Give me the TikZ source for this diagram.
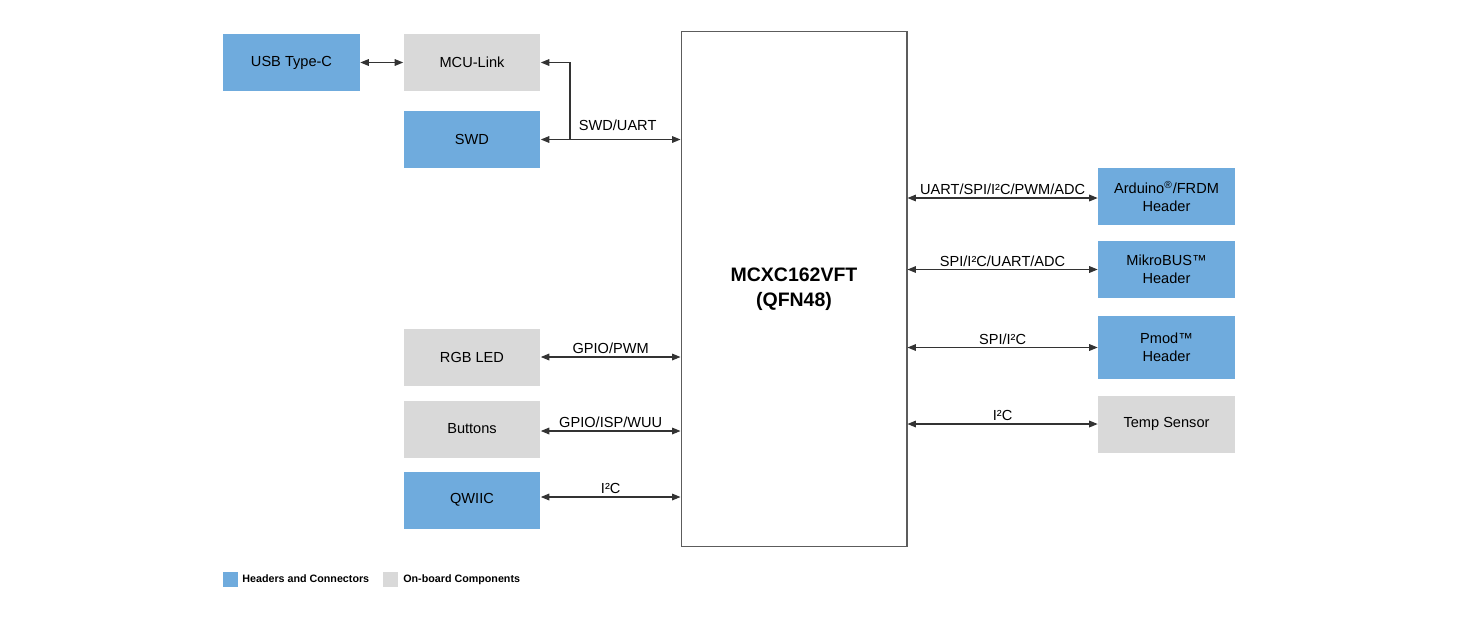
\documentclass[tikz,border=0pt]{standalone}
\usepackage{fontspec}
\setmainfont{Liberation Sans}
\usepackage{tikz}
\usetikzlibrary{calc, arrows.meta}
\definecolor{hdrblue}{HTML}{6FABDD}
\definecolor{compgrey}{HTML}{D9D9D9}
\definecolor{wiregrey}{HTML}{333333}

\begin{document}
\begin{tikzpicture}[x=0.02cm, y=-0.02cm,
	every node/.style={font=\fontsize{8.3}{10}\selectfont, text=black},
	box/.style={minimum width=2.74cm, minimum height=1.14cm, inner sep=1pt, align=center},
	hdr/.style={box, fill=hdrblue},
	comp/.style={box, fill=compgrey},
	link/.style={draw=wiregrey, line width=0.6pt, {Triangle[length=4.8pt,width=3.8pt]}-{Triangle[length=4.8pt,width=3.8pt]}},
	bus/.style={above=1.5pt, midway, inner sep=0pt},
	key/.style={minimum size=0.3cm, inner sep=0pt},
	keytext/.style={font=\fontsize{6.1}{7}\selectfont\bfseries, anchor=west, inner sep=0pt}]
			\useasboundingbox (0,0) rectangle (1470,627);
			% processor
			\node[draw=wiregrey!80, line width=0.6pt, minimum width=4.52cm, minimum height=10.32cm, font=\fontsize{11.1}{14}\selectfont\bfseries, align=center] (mcu) at (794,289) {MCXC162VFT\\(QFN48)};
			% left side
			\node[hdr] (usb) at (291.5,62.5) {USB Type-C};
			\node[comp] (mculink) at (472,62.5) {MCU-Link};
			\node[hdr] (swd) at (472,139.5) {SWD};
			\node[comp] (rgb) at (472,357) {RGB LED};
			\node[comp] (btn) at (472,429) {Buttons};
			\node[hdr] (qwiic) at (472,500) {QWIIC};
			% right side
			\node[hdr] (ard) at (1166.5,196.5) {Arduino\textsuperscript{®}/FRDM\\Header};
			\node[hdr] (mikro) at (1166.5,269.5) {MikroBUS™\\Header};
			\node[hdr, minimum height=1.26cm] (pmod) at (1166.5,347.5) {Pmod™\\Header};
			\node[comp] (temp) at (1166.5,424) {Temp Sensor};
			% connections
			\draw[link] (usb) -- (mculink);
			\draw[link] (swd.east) -- node[bus, pos=0.55, above=3pt] {SWD/UART} (swd.east -| mcu.west);
			\coordinate (split) at (570,139.5);
			\draw[link, {Triangle[length=4.8pt,width=3.8pt]}-] (mculink.east) -| (split);
			\draw[link] (rgb.east) -- node[bus] {GPIO/PWM} (rgb.east -| mcu.west);
			\draw[link] ($(btn.east)+(0,2)$) -- node[bus] {GPIO/ISP/WUU} ($(btn.east -| mcu.west)+(0,2)$);
			\draw[link] ($(qwiic.east)+(0,-3)$) -- node[bus] {I²C} ($(qwiic.east -| mcu.west)+(0,-3)$);
			\draw[link] ($(ard.west -| mcu.east)+(0,1.5)$) -- node[bus] {UART/SPI/I²C/PWM/ADC} ($(ard.west)+(0,1.5)$);
			\draw[link] (mikro.west -| mcu.east) -- node[bus] {SPI/I²C/UART/ADC} (mikro.west);
			\draw[link] (pmod.west -| mcu.east) -- node[bus] {SPI/I²C} (pmod.west);
			\draw[link] (temp.west -| mcu.east) -- node[bus] {I²C} (temp.west);
			% legend
			\node[key, fill=hdrblue] (keyhdr) at (230.5,579.5) {};
			\node[keytext] (keyhdrtext) at (242,579) {Headers and Connectors};
			\node[key, fill=compgrey] (keycomp) at (390.5,579.5) {};
			\node[keytext] (keycomptext) at (403,579.5) {On-board Components};
		\end{tikzpicture}
\end{document}
